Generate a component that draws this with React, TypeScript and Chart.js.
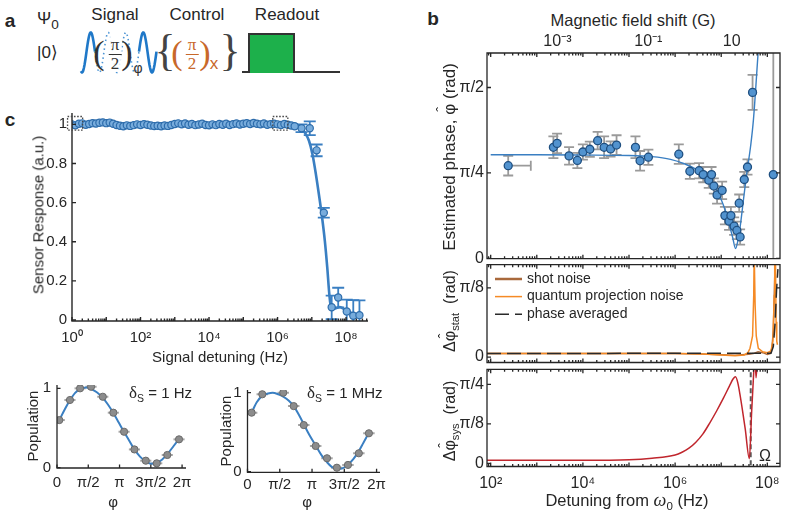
import React, { useEffect, useRef } from 'react';
import { Chart, registerables } from 'chart.js';

Chart.register(...registerables);

const FONT = "'Liberation Sans', Arial, Helvetica, sans-serif";
const SERIF = "'Liberation Serif', 'Times New Roman', serif";
const INK = '#262626';
const PI = Math.PI;

const BLUE_LINE = '#3a7fc2';
const BLUE_FILL = '#78acdc';
const BLUE_EDGE = '#2d6cab';
const B_FILL = '#5293cf';
const B_EDGE = '#1f4f80';
const GRAY_ERR = '#9a9a9a';

// ---------------- Panel c (main): sensor response ----------------
const cDenseExp = [0, 0.1, 0.2, 0.3, 0.4, 0.5, 0.6, 0.7, 0.8, 0.9, 1.0, 1.1, 1.2, 1.3, 1.4, 1.5, 1.6, 1.7, 1.8, 1.9, 2.0, 2.1, 2.2, 2.3, 2.4, 2.5, 2.6, 2.7, 2.8, 2.9, 3.0, 3.1, 3.2, 3.3, 3.4, 3.5, 3.6, 3.7, 3.8, 3.9, 4.0, 4.1, 4.2, 4.3, 4.4, 4.5, 4.6, 4.7, 4.8, 4.9, 5.0, 5.1, 5.2, 5.3, 5.4, 5.5, 5.6, 5.7, 5.8, 5.9, 6.0, 6.1, 6.2, 6.3, 6.4, 6.5];
const cDenseVal = [1.0, 0.995, 1.003, 1.005, 0.998, 1.002, 1.006, 1.004, 1.008, 1.01, 1.006, 1.009, 1.003, 0.997, 0.993, 0.99, 0.995, 0.992, 0.996, 1.0, 0.997, 1.001, 0.998, 0.994, 0.991, 0.993, 0.99, 0.994, 0.992, 0.997, 1.002, 1.005, 1.0, 1.004, 0.998, 1.002, 0.996, 0.999, 1.003, 0.997, 0.995, 1.0, 0.996, 1.002, 0.998, 1.003, 0.997, 1.001, 1.004, 0.999, 1.003, 1.006, 1.002, 1.007, 1.003, 1.0, 1.004, 0.998, 1.001, 1.003, 1.0, 0.997, 1.002, 0.998, 0.994, 0.99];
const cTailExp = [6.7, 6.94, 7.14, 7.35, 7.58, 7.77, 8.02, 8.21, 8.39];
const cTailVal = [0.98, 0.98, 0.867, 0.548, 0.065, 0.115, 0.044, 0.022, 0.025];
const cTailErr = [0.02, 0.035, 0.03, 0.025, 0.06, 0.05, 0.06, 0.08, 0.075];
const cFitExp = [0, 6.3, 6.5, 6.65, 6.8, 6.92, 7.02, 7.12, 7.22, 7.3, 7.38, 7.45, 7.51, 7.56, 7.65, 7.82, 7.95, 8.11, 8.25, 8.41];
const cFitVal = [1.0, 1.0, 1.0, 0.99, 0.957, 0.915, 0.846, 0.744, 0.626, 0.524, 0.405, 0.27, 0.134, 0.066, 0.058, 0.066, 0.055, 0.04, 0.03, 0.024];
const cXTickExp = [0, 2, 4, 6, 8];
const cXTickLabels = ['10⁰', '10²', '10⁴', '10⁶', '10⁸'];
const cYTicks = [0, 0.2, 0.4, 0.6, 0.8, 1];
const cYTickLabels = ['0', '0.2', '0.4', '0.6', '0.8', '1'];
const cBoxExp = [[-0.13, 0.31], [5.86, 6.3]];
const cBoxVal = [[0.97, 1.04], [0.97, 1.04]];

// ---------------- Panel c (small): population vs phase ----------------
const pTickVals = [0, PI / 2, PI, (3 * PI) / 2, 2 * PI];
const pTickLabels = ['0', 'π/2', 'π', '3π/2', '2π'];
const p1Phase = [0.116, 0.65, 1.16, 1.71, 2.3, 2.83, 3.37, 3.89, 4.46, 5.01, 5.54, 6.13];
const p1Pop = [0.6, 0.853, 1.0, 1.02, 0.894, 0.693, 0.453, 0.23, 0.088, 0.055, 0.16, 0.357];
const p1FitPhase = [0.116, 0.4, 0.65, 0.9, 1.16, 1.45, 1.71, 2.0, 2.3, 2.55, 2.83, 3.1, 3.37, 3.63, 3.89, 4.17, 4.46, 4.73, 5.01, 5.27, 5.54, 5.85, 6.13];
const p1FitPop = [0.6, 0.74, 0.85, 0.94, 0.99, 1.01, 0.99, 0.95, 0.88, 0.8, 0.69, 0.57, 0.45, 0.34, 0.23, 0.14, 0.08, 0.05, 0.06, 0.1, 0.17, 0.27, 0.36];
const p2Phase = [0.2, 0.72, 1.74, 2.25, 2.74, 3.32, 3.87, 4.35, 4.89, 5.42, 5.91];
const p2Pop = [0.747, 0.98, 1.0, 0.83, 0.59, 0.325, 0.17, 0.05, 0.085, 0.233, 0.486];
const p2FitPhase = [0.2, 0.45, 0.72, 1.0, 1.22, 1.5, 1.74, 2.0, 2.25, 2.5, 2.74, 3.0, 3.32, 3.6, 3.87, 4.1, 4.35, 4.6, 4.89, 5.15, 5.42, 5.65, 5.91];
const p2FitPop = [0.747, 0.88, 0.96, 0.99, 1.0, 0.98, 0.95, 0.9, 0.83, 0.72, 0.6, 0.47, 0.33, 0.21, 0.12, 0.06, 0.035, 0.04, 0.09, 0.16, 0.26, 0.37, 0.49];
const pPhaseErr = 0.28;

// ---------------- Panel b (top): estimated phase ----------------
const bExp = [2.38, 3.36, 3.44, 3.7, 3.88, 4.0, 4.15, 4.32, 4.46, 4.6, 4.73, 5.14, 5.24, 5.42, 6.08, 6.32, 6.52, 6.61, 6.73, 6.79, 6.84, 6.91, 7.02, 7.08, 7.17, 7.21, 7.28, 7.34, 7.39, 7.41, 7.5, 7.57, 7.68, 8.13];
const bPhase = [0.852, 1.021, 1.057, 0.942, 0.9, 0.978, 1.003, 1.082, 1.021, 1.006, 1.042, 1.021, 0.897, 0.93, 0.958, 0.801, 0.806, 0.77, 0.719, 0.77, 0.665, 0.583, 0.625, 0.393, 0.342, 0.393, 0.296, 0.257, 0.507, 0.197, 0.725, 0.84, 1.526, 0.77];
const bErr = [0.09, 0.1, 0.09, 0.08, 0.07, 0.07, 0.07, 0.08, 0.1, 0.07, 0.09, 0.1, 0.09, 0.07, 0.09, 0.07, 0.07, 0.07, 0.07, 0.07, 0.07, 0.08, 0.08, 0.08, 0.08, 0.08, 0.08, 0.08, 0.08, 0.07, 0.07, 0.07, 0.16, 2.5];
const bXHiExp = [2.87];
const bFitExp = [2.0, 3.0, 4.0, 5.0, 5.5, 5.9, 6.2, 6.47, 6.65, 6.83, 6.95, 7.05, 7.12, 7.19, 7.25, 7.31, 7.36, 7.41, 7.48, 7.55, 7.64, 7.7, 7.8, 7.85];
const bFitVal = [0.952, 0.952, 0.95, 0.946, 0.935, 0.91, 0.87, 0.815, 0.76, 0.68, 0.59, 0.486, 0.4, 0.287, 0.19, 0.09, 0.16, 0.287, 0.53, 0.77, 1.04, 1.28, 1.89, 2.2];
const bXMinExp = 1.92;
const bXMaxExp = 8.275;
const bTopTickExp = [3.447, 5.419, 7.228];
const bTopTickLabels = ['10⁻³', '10⁻¹', '10'];
const bBotTickExp = [2, 4, 6, 8];
const bBotTickLabels = ['10²', '10⁴', '10⁶', '10⁸'];

// ---------------- Panel b (middle): statistical uncertainty ----------------
const shotExp = [1.92, 4.0, 6.0, 6.6, 7.0, 7.3, 7.6, 7.72, 7.8, 7.9, 8.0, 8.06, 8.1, 8.13, 8.16, 8.18];
const shotVal = [0.02, 0.02, 0.02, 0.018, 0.013, 0.01, 0.016, 0.022, 0.03, 0.025, 0.015, 0.02, 0.05, 0.15, 0.45, 0.6];
const qpnExp = [1.92, 4.0, 6.0, 6.6, 7.0, 7.3, 7.5, 7.58, 7.625, 7.68, 7.705, 7.715, 7.722, 7.735, 7.76, 7.805, 7.9, 8.0, 8.08, 8.12, 8.15, 8.16, 8.175, 8.19, 8.205, 8.22];
const qpnVal = [0.02, 0.02, 0.02, 0.018, 0.012, 0.007, 0.012, 0.025, 0.05, 0.12, 0.35, 0.6, 0.6, 0.3, 0.12, 0.05, 0.03, 0.025, 0.035, 0.09, 0.35, 0.6, 0.6, 0.2, 0.09, 0.07];
const avgExp = [1.92, 8.08, 8.13, 8.17, 8.2, 8.23];
const avgVal = [0.02, 0.022, 0.06, 0.2, 0.38, 0.5];

// ---------------- Panel b (bottom): systematic uncertainty ----------------
const sysExp = [1.92, 4.0, 5.0, 5.5, 6.0, 6.15, 6.3, 6.45, 6.6, 6.75, 6.9, 7.05, 7.18, 7.26, 7.31, 7.36, 7.41, 7.52, 7.61, 7.66, 7.71, 7.73, 7.755, 7.78, 7.81];
const sysVal = [0.03, 0.03, 0.035, 0.05, 0.082, 0.11, 0.15, 0.21, 0.29, 0.4, 0.52, 0.65, 0.77, 0.84, 0.86, 0.8, 0.676, 0.344, 0.046, 0.51, 0.95, 1.1, 0.85, 1.0, 1.3];
const omegaExp = 7.64;

// ---------------- helpers ----------------
const pts = (xs: number[], ys: number[], logX = false) => xs.map((v, i) => ({ x: logX ? 10 ** v : v, y: ys[i] }));

function mkScale(o: any) {
  const s: any = {
    type: o.type || 'linear',
    min: o.min,
    max: o.max,
    display: o.display ?? true,
    grid: { display: false, drawTicks: false },
    border: { display: false },
    ticks: {
      autoSkip: false,
      maxRotation: 0,
      minRotation: 0,
      padding: o.pad ?? 5,
      color: INK,
      font: { family: FONT, size: o.font ?? 15 },
      callback: (_v: any, i: number) => (o.labels ? o.labels[i] : ''),
    },
    afterBuildTicks: (sc: any) => {
      sc.ticks = (o.vals || []).map((v: number) => ({ value: v }));
    },
    afterFit: (sc: any) => {
      if (o.w !== undefined) sc.width = o.w;
      if (o.h !== undefined) sc.height = o.h;
      sc.paddingLeft = 0;
      sc.paddingRight = 0;
      sc.paddingTop = 0;
      sc.paddingBottom = 0;
    },
  };
  if (o.position) s.position = o.position;
  if (o.axis) s.axis = o.axis;
  return s;
}

const framePlugin = {
  id: 'frame',
  afterDatasetsDraw(chart: any, _a: any, opts: any) {
    if (!opts || !opts.on) return;
    const { ctx, chartArea: a, scales } = chart;
    const xs = scales.x;
    const ys = scales.y;
    const major = opts.major ?? 4;
    const minor = opts.minor ?? 2;
    ctx.save();
    ctx.strokeStyle = opts.color || INK;
    ctx.lineWidth = opts.lw || 1;
    ctx.beginPath();
    if (opts.box) {
      ctx.rect(a.left, a.top, a.right - a.left, a.bottom - a.top);
    } else {
      ctx.moveTo(a.left, a.top);
      ctx.lineTo(a.left, a.bottom);
      ctx.lineTo(a.right, a.bottom);
    }
    ctx.stroke();
    const xt: number[][] = [];
    if (opts.xLog) {
      const d0 = Math.floor(Math.log10(xs.min));
      const d1 = Math.ceil(Math.log10(xs.max));
      for (let d = d0; d <= d1; d++) {
        for (let m = 1; m < 10; m++) {
          const v = m * 10 ** d;
          if (v >= xs.min && v <= xs.max) xt.push([v, m === 1 ? major : minor]);
        }
      }
    } else {
      (opts.xTicks || []).forEach((v: number) => xt.push([v, major]));
    }
    ctx.beginPath();
    xt.forEach(([v, len]) => {
      const px = xs.getPixelForValue(v);
      ctx.moveTo(px, a.bottom);
      ctx.lineTo(px, a.bottom - len);
      if (opts.box) {
        ctx.moveTo(px, a.top);
        ctx.lineTo(px, a.top + len);
      }
    });
    (opts.yTicks || []).forEach((v: number) => {
      const py = ys.getPixelForValue(v);
      ctx.moveTo(a.left, py);
      ctx.lineTo(a.left + major, py);
      if (opts.box) {
        ctx.moveTo(a.right, py);
        ctx.lineTo(a.right - major, py);
      }
    });
    ctx.stroke();
    ctx.restore();
  },
};

const errorBarPlugin = {
  id: 'errbars',
  beforeDatasetsDraw(chart: any) {
    const { ctx, chartArea: a, scales } = chart;
    const x = scales.x;
    const y = scales.y;
    ctx.save();
    ctx.beginPath();
    ctx.rect(a.left, a.top, a.right - a.left, a.bottom - a.top);
    ctx.clip();
    chart.data.datasets.forEach((ds: any) => {
      if (!ds.errY && !ds.errX && !ds.errXTo) return;
      ctx.strokeStyle = ds.errColor || INK;
      ctx.lineWidth = ds.errWidth || 1.5;
      const cap = ds.errCap ?? 4;
      ds.data.forEach((p: any, i: number) => {
        const px = x.getPixelForValue(p.x);
        const py = y.getPixelForValue(p.y);
        ctx.beginPath();
        if (ds.errY && ds.errY[i]) {
          const e = ds.errY[i];
          const y1 = y.getPixelForValue(p.y + e);
          const y0 = y.getPixelForValue(p.y - e);
          ctx.moveTo(px, y0);
          ctx.lineTo(px, y1);
          if (cap) {
            ctx.moveTo(px - cap, y1);
            ctx.lineTo(px + cap, y1);
            ctx.moveTo(px - cap, y0);
            ctx.lineTo(px + cap, y0);
          }
        }
        if (ds.errX && ds.errX[i]) {
          const x0 = x.getPixelForValue(p.x - ds.errX[i]);
          const x1 = x.getPixelForValue(p.x + ds.errX[i]);
          ctx.moveTo(x0, py);
          ctx.lineTo(x1, py);
        }
        if (ds.errXTo && ds.errXTo[i]) {
          const x1 = x.getPixelForValue(ds.errXTo[i]);
          ctx.moveTo(px, py);
          ctx.lineTo(x1, py);
          ctx.moveTo(x1, py - cap);
          ctx.lineTo(x1, py + cap);
        }
        ctx.stroke();
      });
    });
    ctx.restore();
  },
};

const boxPlugin = {
  id: 'hiBoxes',
  afterDatasetsDraw(chart: any, _a: any, opts: any) {
    if (!opts || !opts.xr) return;
    const { ctx, scales } = chart;
    const x = scales.x;
    const y = scales.y;
    ctx.save();
    ctx.strokeStyle = '#4a4a4a';
    ctx.lineWidth = 1.3;
    ctx.setLineDash([1.6, 1.6]);
    opts.xr.forEach((xr: number[], i: number) => {
      const yr = opts.yr[i];
      const x0 = x.getPixelForValue(10 ** xr[0]);
      const x1 = x.getPixelForValue(10 ** xr[1]);
      const y0 = y.getPixelForValue(yr[0]);
      const y1 = y.getPixelForValue(yr[1]);
      ctx.strokeRect(x0, y1, x1 - x0, y0 - y1);
    });
    ctx.restore();
  },
};

const lineLegendPlugin = {
  id: 'lineLegend',
  afterDatasetsDraw(chart: any, _a: any, opts: any) {
    if (!opts || !opts.on) return;
    const { ctx, chartArea: a } = chart;
    ctx.save();
    let row = 0;
    chart.data.datasets.forEach((ds: any) => {
      if (!ds.label) return;
      const y = a.top + opts.y0 + row * opts.dy;
      ctx.strokeStyle = ds.borderColor;
      ctx.lineWidth = ds.legendWidth ?? ds.borderWidth;
      ctx.setLineDash(ds.borderDash || []);
      ctx.beginPath();
      ctx.moveTo(a.left + opts.x0, y);
      ctx.lineTo(a.left + opts.x0 + opts.len, y);
      ctx.stroke();
      ctx.setLineDash([]);
      ctx.fillStyle = INK;
      ctx.font = `${opts.size}px ${FONT}`;
      ctx.textBaseline = 'middle';
      ctx.textAlign = 'left';
      ctx.fillText(ds.label, a.left + opts.x0 + opts.len + opts.gap, y);
      row++;
    });
    ctx.restore();
  },
};

Chart.register(framePlugin, errorBarPlugin, boxPlugin, lineLegendPlugin);

function baseOptions(o: any) {
  return {
    responsive: false,
    animation: false,
    devicePixelRatio: 1,
    events: [],
    layout: o.layout,
    scales: o.scales,
    plugins: { legend: { display: false }, tooltip: { enabled: false }, ...(o.plugins || {}) },
  };
}

// ---------------- chart configs ----------------
function cMainConfig() {
  const marker = { pointRadius: 3.6, backgroundColor: BLUE_FILL, borderColor: BLUE_EDGE, borderWidth: 1.2 };
  return {
    type: 'scatter',
    data: {
      datasets: [
        { data: pts(cFitExp, cFitVal, true), showLine: true, pointRadius: 0, borderColor: BLUE_LINE, borderWidth: 2.6, cubicInterpolationMode: 'monotone', order: 2 },
        { data: pts(cDenseExp, cDenseVal, true), ...marker, order: 1 },
        { data: pts(cTailExp, cTailVal, true), ...marker, errY: cTailErr, errColor: BLUE_LINE, errWidth: 1.8, errCap: 6, order: 1 },
      ],
    },
    options: baseOptions({
      layout: { padding: { left: 0, top: 13, right: 12, bottom: 0 } },
      scales: {
        x: mkScale({ type: 'logarithmic', min: 1, max: 10 ** 8.64, vals: cXTickExp.map((e) => 10 ** e), labels: cXTickLabels, h: 34, pad: 8, font: 15 }),
        y: mkScale({ min: -0.005, max: 1.058, vals: cYTicks, labels: cYTickLabels, w: 72, pad: 5, font: 15 }),
      },
      plugins: {
        frame: { on: true, box: false, xLog: true, yTicks: cYTicks, lw: 1.4, major: 4, minor: 2.5 },
        hiBoxes: { xr: cBoxExp, yr: cBoxVal },
      },
    }),
  };
}

function popConfig(phase: number[], pop: number[], fx: number[], fy: number[], geo: any) {
  return {
    type: 'scatter',
    data: {
      datasets: [
        { data: pts(fx, fy), showLine: true, pointRadius: 0, borderColor: BLUE_LINE, borderWidth: 2, cubicInterpolationMode: 'monotone', order: 2 },
        { data: pts(phase, pop), pointRadius: 3.6, backgroundColor: '#8c8c8c', borderColor: '#6a6a6a', borderWidth: 1, errX: phase.map(() => pPhaseErr), errColor: '#a8a8a8', errWidth: 2, errCap: 0, order: 1 },
      ],
    },
    options: baseOptions({
      layout: { padding: { left: 0, top: geo.top, right: geo.right, bottom: 0 } },
      scales: {
        x: mkScale({ min: 0, max: geo.xmax, vals: pTickVals, labels: pTickLabels, h: geo.h, pad: geo.xpad, font: 15 }),
        y: mkScale({ min: geo.ymin, max: geo.ymax, vals: [0, 1], labels: ['0', '1'], w: geo.w, pad: 6, font: 15 }),
      },
      plugins: { frame: { on: true, box: false, xTicks: pTickVals, yTicks: [0, 1], lw: 1.3, major: 3.5 } },
    }),
  };
}

function bTopConfig() {
  return {
    type: 'scatter',
    data: {
      datasets: [
        { data: pts(bFitExp, bFitVal, true), showLine: true, pointRadius: 0, borderColor: BLUE_LINE, borderWidth: 1.4, cubicInterpolationMode: 'monotone', order: 2 },
        {
          data: pts(bExp, bPhase, true),
          pointRadius: 4,
          backgroundColor: B_FILL,
          borderColor: B_EDGE,
          borderWidth: 1.3,
          errY: bErr,
          errXTo: bXHiExp.map((e) => 10 ** e),
          errColor: GRAY_ERR,
          errWidth: 1.8,
          errCap: 5,
          order: 1,
        },
      ],
    },
    options: baseOptions({
      layout: { padding: { left: 0, top: 0, right: 9, bottom: 2 } },
      scales: {
        x: mkScale({ type: 'logarithmic', min: 10 ** bXMinExp, max: 10 ** bXMaxExp, display: false }),
        xTop: mkScale({ type: 'logarithmic', axis: 'x', position: 'top', min: 10 ** bXMinExp, max: 10 ** bXMaxExp, vals: bTopTickExp.map((e) => 10 ** e), labels: bTopTickLabels, h: 25, pad: 2, font: 16 }),
        y: mkScale({ min: -0.003, max: 1.888, vals: [0, PI / 4, PI / 2], labels: ['0', 'π/4', 'π/2'], w: 87, pad: 3, font: 16 }),
      },
      plugins: { frame: { on: true, box: true, xLog: true, yTicks: [0, PI / 4, PI / 2], lw: 1.3, major: 4, minor: 2.5 } },
    }),
  };
}

function bMidConfig() {
  return {
    type: 'scatter',
    data: {
      datasets: [
        { label: 'shot noise', data: pts(shotExp, shotVal, true), showLine: true, pointRadius: 0, borderColor: '#a9693c', borderWidth: 1.5, legendWidth: 2.5, order: 3 },
        { label: 'quantum projection noise', data: pts(qpnExp, qpnVal, true), showLine: true, pointRadius: 0, borderColor: '#f58a25', borderWidth: 1.5, legendWidth: 1.5, order: 2 },
        { label: 'phase averaged', data: pts(avgExp, avgVal, true), showLine: true, pointRadius: 0, borderColor: '#2a2a2a', borderWidth: 1.5, borderDash: [14, 6], legendWidth: 1.5, order: 1 },
      ],
    },
    options: baseOptions({
      layout: { padding: { left: 0, top: 2.7, right: 9, bottom: 2.5 } },
      scales: {
        x: mkScale({ type: 'logarithmic', min: 10 ** bXMinExp, max: 10 ** bXMaxExp, display: false }),
        y: mkScale({ min: -0.031, max: 0.525, vals: [0, PI / 8], labels: ['0', 'π/8'], w: 87, pad: 3, font: 16 }),
      },
      plugins: {
        frame: { on: true, box: true, xLog: true, yTicks: [0, PI / 8], lw: 1.3, major: 4, minor: 2.5 },
        lineLegend: { on: true, x0: 8, len: 27, gap: 5, y0: 14.3, dy: 17.6, size: 14 },
      },
    }),
  };
}

function bBotConfig() {
  return {
    type: 'scatter',
    data: {
      datasets: [
        { data: pts([omegaExp, omegaExp], [-0.1, 1.0], true), showLine: true, pointRadius: 0, borderColor: '#5a5a5a', borderWidth: 2, borderDash: [5, 3], order: 2 },
        { data: pts(sysExp, sysVal, true), showLine: true, pointRadius: 0, borderColor: '#c0262d', borderWidth: 1.5, cubicInterpolationMode: 'monotone', order: 1 },
      ],
    },
    options: baseOptions({
      layout: { padding: { left: 0, top: 3.3, right: 9, bottom: 0 } },
      scales: {
        x: mkScale({ type: 'logarithmic', min: 10 ** bXMinExp, max: 10 ** bXMaxExp, vals: bBotTickExp.map((e) => 10 ** e), labels: bBotTickLabels, h: 34.5, pad: 7, font: 16 }),
        y: mkScale({ min: -0.0318, max: 0.9345, vals: [0, PI / 8, PI / 4], labels: ['0', 'π/8', 'π/4'], w: 87, pad: 3, font: 16 }),
      },
      plugins: { frame: { on: true, box: true, xLog: true, yTicks: [0, PI / 8, PI / 4], lw: 1.3, major: 4, minor: 2.5 } },
    }),
  };
}

// ---------------- components ----------------
function ChartCanvas({ left, top, width, height, build }: { left: number; top: number; width: number; height: number; build: () => any }) {
  const ref = useRef<HTMLCanvasElement>(null);
  useEffect(() => {
    const chart = new Chart(ref.current as HTMLCanvasElement, build());
    return () => chart.destroy();
  }, []);
  return <canvas ref={ref} width={width} height={height} style={{ position: 'absolute', left, top, width, height }} />;
}

function Label({ x, y, size = 15, rotate = false, align = 'center', weight = 400, color = INK, family = FONT, children }: any) {
  const tx = align === 'center' ? '-50%' : align === 'left' ? '0' : '-100%';
  return (
    <div
      style={{
        position: 'absolute',
        left: x,
        top: y,
        transform: `translate(${tx},-50%)${rotate ? ' rotate(-90deg)' : ''}`,
        whiteSpace: 'nowrap',
        fontSize: size,
        lineHeight: 1.15,
        fontFamily: family,
        fontWeight: weight,
        color,
      }}
    >
      {children}
    </div>
  );
}

function Hat({ ch }: { ch: string }) {
  return (
    <span style={{ position: 'relative', display: 'inline-block' }}>
      {ch}
      <span style={{ position: 'absolute', left: '50%', top: '-0.4em', transform: 'translateX(-50%)', fontSize: '0.85em' }}>ˆ</span>
    </span>
  );
}

const sub = (t: string, size = '0.65em') => <span style={{ fontSize: size, position: 'relative', top: '0.35em' }}>{t}</span>;

function Frac({ x, color }: { x: number; color: string }) {
  return (
    <div style={{ position: 'absolute', left: x, top: 36, transform: 'translateX(-50%)', display: 'flex', flexDirection: 'column', alignItems: 'center', fontFamily: SERIF, fontSize: 17, lineHeight: '17px', color, background: 'rgba(255,255,255,0.85)' }}>
      <span>π</span>
      <span style={{ borderTop: `1px solid ${color}`, padding: '0 2px', marginTop: 1 }}>2</span>
    </div>
  );
}

function Wave() {
  const seg = (a: number, b: number) => {
    const p: string[] = [];
    for (let x = a; x <= b; x += 0.5) {
      const y = 52.5 + 20 * Math.cos((2 * PI * (x - 82)) / 17.5);
      p.push(`${p.length ? 'L' : 'M'}${x.toFixed(1)},${y.toFixed(1)}`);
    }
    return p.join(' ');
  };
  return (
    <svg width={789} height={100} style={{ position: 'absolute', left: 0, top: 0 }}>
      <path d={seg(81, 95)} fill="none" stroke="#1f78c8" strokeWidth={2.6} />
      <path d={seg(95, 139)} fill="none" stroke="#4a93d4" strokeWidth={1.6} strokeDasharray="1.5 3" />
      <path d={seg(139, 156.5)} fill="none" stroke="#1f78c8" strokeWidth={2.6} />
    </svg>
  );
}

function PanelA() {
  const ORANGE = '#c8682a';
  return (
    <>
      <Label x={10} y={21} size={19} weight={700}>a</Label>
      <Label x={37} y={19} size={17} align="left">Ψ{sub('0', '0.8em')}</Label>
      <Label x={37} y={53} size={17} align="left">|0⟩</Label>
      <Label x={115} y={15} size={17}>Signal</Label>
      <Label x={197} y={15} size={17}>Control</Label>
      <Label x={287} y={15} size={17}>Readout</Label>
      <Wave />
      <Label x={99} y={53} size={34} family={SERIF} color="#333">(</Label>
      <Frac x={115} color="#333" />
      <Label x={127} y={53} size={34} family={SERIF} color="#333">)</Label>
      <Label x={138} y={68} size={14} color="#333">φ</Label>
      <Label x={165} y={51} size={44} family={SERIF} color="#444">{'{'}</Label>
      <Label x={177} y={53} size={34} family={SERIF} color={ORANGE}>(</Label>
      <Frac x={192} color={ORANGE} />
      <Label x={205} y={53} size={34} family={SERIF} color={ORANGE}>)</Label>
      <Label x={214} y={64} size={17} color={ORANGE}>x</Label>
      <Label x={230} y={51} size={44} family={SERIF} color="#444">{'}'}</Label>
      <div style={{ position: 'absolute', left: 242, top: 71, width: 98, height: 2, background: '#333' }} />
      <div style={{ position: 'absolute', left: 248, top: 33, width: 43, height: 38, background: '#1db04b', border: '2px solid #333', borderBottom: 'none' }} />
    </>
  );
}

export default function App() {
  return (
    <div style={{ position: 'absolute', left: 0, top: 0, width: 789, height: 514, background: '#fff', overflow: 'hidden', fontFamily: FONT, color: INK }}>
      <PanelA />

      {/* panel c */}
      <Label x={10} y={120} size={19} weight={700}>c</Label>
      <ChartCanvas left={0} top={100} width={380} height={255} build={cMainConfig} />
      <Label x={38} y={215} size={15} rotate>Sensor Response (a.u.)</Label>
      <Label x={220} y={357} size={15}>Signal detuning (Hz)</Label>

      <ChartCanvas
        left={0}
        top={375}
        width={195}
        height={115}
        build={() => popConfig(p1Phase, p1Pop, p1FitPhase, p1FitPop, { top: 10, right: 9, h: 22, w: 57, xmax: 6.48, ymin: -0.004, ymax: 1.042, xpad: 6 })}
      />
      <ChartCanvas
        left={190}
        top={378}
        width={200}
        height={116}
        build={() => popConfig(p2Phase, p2Pop, p2FitPhase, p2FitPop, { top: 12, right: 10, h: 21.7, w: 57.5, xmax: 6.45, ymin: -0.008, ymax: 1.034, xpad: 4 })}
      />
      <Label x={33} y={426} size={15} rotate>Population</Label>
      <Label x={226} y={431} size={15} rotate>Population</Label>
      <Label x={113} y={502} size={15}>φ</Label>
      <Label x={307} y={502} size={15}>φ</Label>
      <Label x={129} y={393} size={15} align="left">
        <span style={{ fontFamily: SERIF, fontSize: 17 }}>δ</span>
        {sub('S', '0.7em')} = 1 Hz
      </Label>
      <Label x={307} y={393} size={15} align="left">
        <span style={{ fontFamily: SERIF, fontSize: 17 }}>δ</span>
        {sub('S', '0.7em')} = 1 MHz
      </Label>

      {/* panel b */}
      <Label x={433} y={19} size={19} weight={700}>b</Label>
      <Label x={633} y={20} size={16.5}>Magnetic field shift (G)</Label>
      <ChartCanvas left={400} top={28} width={389} height={236} build={bTopConfig} />
      <ChartCanvas left={400} top={262} width={389} height={103} build={bMidConfig} />
      <ChartCanvas left={400} top={366} width={389} height={135} build={bBotConfig} />
      <Label x={450} y={157} size={17} rotate>
        Estimated phase, <Hat ch="φ" /> (rad)
      </Label>
      <Label x={450} y={311} size={16} rotate>
        Δ<Hat ch="φ" />
        {sub('stat', '0.7em')}&nbsp;&nbsp;(rad)
      </Label>
      <Label x={450} y={421} size={16} rotate>
        Δ<Hat ch="φ" />
        {sub('sys', '0.7em')}&nbsp;&nbsp;(rad)
      </Label>
      <Label x={765} y={456} size={16}>Ω</Label>
      <Label x={627} y={500} size={16.5}>
        Detuning from <span style={{ fontFamily: SERIF, fontStyle: 'italic', fontSize: '1.1em' }}>ω</span>
        {sub('0', '0.7em')} (Hz)
      </Label>
    </div>
  );
}
